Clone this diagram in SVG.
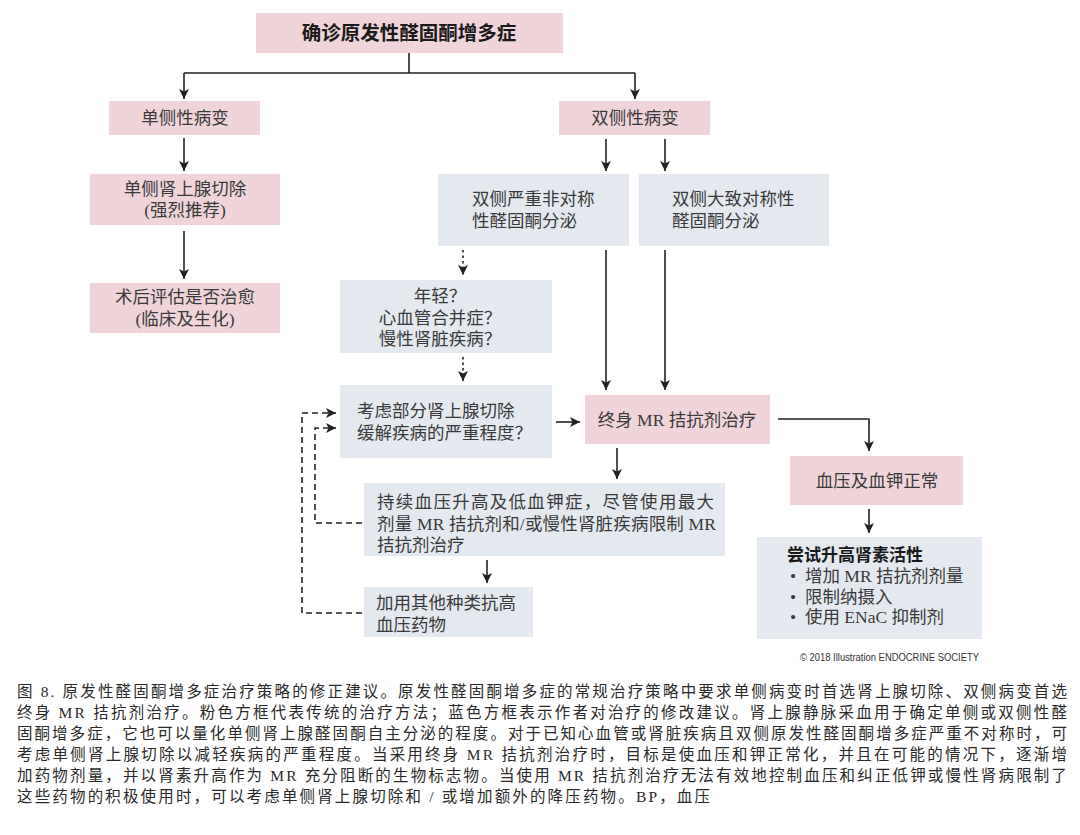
<svg xmlns="http://www.w3.org/2000/svg" width="1080" height="835" viewBox="0 0 1080 835">
<defs>
<style>
.pink{fill:#f1d4da}
.blue{fill:#e4e9f0}
.t{font-family:"Liberation Serif","Noto Sans CJK SC",serif;font-size:17.5px;fill:#3a3a3a}
.c{text-anchor:middle}
.b{font-family:"Liberation Sans","Noto Sans CJK SC",sans-serif;font-weight:bold;fill:#1a1a1a}
.ln{fill:none;stroke:#222;stroke-width:1.6}
.dot{fill:none;stroke:#222;stroke-width:1.6;stroke-dasharray:2.5,3}
.dash{fill:none;stroke:#222;stroke-width:1.6;stroke-dasharray:6,4}
.cap{font-family:"Liberation Serif","Noto Sans CJK SC",serif;font-size:15.5px;fill:#2a2a2a}
.copy{font-family:"Liberation Sans Narrow","Liberation Sans",sans-serif;font-size:10px;fill:#333}
</style>
<marker id="ah" viewBox="0 0 10 10" refX="10" refY="5" markerWidth="10" markerHeight="10" markerUnits="userSpaceOnUse" orient="auto">
<path d="M0,0 L10,5 L0,10 L2.5,5 z" fill="#222"/>
</marker>
</defs>
<rect width="1080" height="835" fill="#fff"/>

<g id="connectors">
<path class="ln" d="M409,53 V73"/>
<path class="ln" d="M184,73 H635"/>
<path class="ln" d="M184,73 V99" marker-end="url(#ah)"/>
<path class="ln" d="M635,73 V99" marker-end="url(#ah)"/>
<path class="ln" d="M184,138 V171" marker-end="url(#ah)"/>
<path class="ln" d="M184,231 V279" marker-end="url(#ah)"/>
<path class="ln" d="M606,139 V171" marker-end="url(#ah)"/>
<path class="ln" d="M665,139 V171" marker-end="url(#ah)"/>
<path class="dot" d="M463,250 V275" marker-end="url(#ah)"/>
<path class="dot" d="M463,357 V381" marker-end="url(#ah)"/>
<path class="ln" d="M606,250 V390" marker-end="url(#ah)"/>
<path class="ln" d="M665,250 V390" marker-end="url(#ah)"/>
<path class="ln" d="M556,422 H580" marker-end="url(#ah)"/>
<path class="ln" d="M778,419 H869 V451" marker-end="url(#ah)"/>
<path class="ln" d="M869,509 V533" marker-end="url(#ah)"/>
<path class="ln" d="M617,448 V479" marker-end="url(#ah)"/>
<path class="ln" d="M487,560 V583" marker-end="url(#ah)"/>
<path class="dash" d="M362,523 H315 V428 H336" marker-end="url(#ah)"/>
<path class="dash" d="M362,613 H302 V413 H336" marker-end="url(#ah)"/>
</g>

<g id="n-confirm">
<rect class="pink" x="256" y="13" width="307" height="40"/>
<text class="b c" x="409" y="33" font-size="19.5" dominant-baseline="central">确诊原发性醛固酮增多症</text>
</g>
<g id="n-unilateral">
<rect class="pink" x="109" y="101" width="151" height="34"/>
<text class="t c" x="185" y="118" dominant-baseline="central">单侧性病变</text>
</g>
<g id="n-bilateral">
<rect class="pink" x="559" y="101" width="151" height="34"/>
<text class="t c" x="635" y="118" dominant-baseline="central">双侧性病变</text>
</g>
<g id="n-adrenalectomy">
<rect class="pink" x="90" y="174" width="190" height="51"/>
<text class="t c" x="185" y="189" dominant-baseline="central">单侧肾上腺切除</text>
<text class="t c" x="185" y="210" dominant-baseline="central">(强烈推荐)</text>
</g>
<g id="n-postop">
<rect class="pink" x="90" y="283" width="190" height="50"/>
<text class="t c" x="185" y="297" dominant-baseline="central">术后评估是否治愈</text>
<text class="t c" x="185" y="319" dominant-baseline="central">(临床及生化)</text>
</g>
<g id="n-asym">
<rect class="blue" x="438" y="174" width="191" height="72"/>
<text class="t" x="472" y="199" dominant-baseline="central">双侧严重非对称</text>
<text class="t" x="472" y="221" dominant-baseline="central">性醛固酮分泌</text>
</g>
<g id="n-sym">
<rect class="blue" x="639" y="174" width="190" height="72"/>
<text class="t" x="672" y="199" dominant-baseline="central">双侧大致对称性</text>
<text class="t" x="672" y="221" dominant-baseline="central">醛固酮分泌</text>
</g>
<g id="n-young">
<rect class="blue" x="340" y="280" width="212" height="73"/>
<text class="t c" x="440" y="296" dominant-baseline="central">年轻？</text>
<text class="t c" x="440" y="318" dominant-baseline="central">心血管合并症？</text>
<text class="t c" x="440" y="339" dominant-baseline="central">慢性肾脏疾病？</text>
</g>
<g id="n-partial">
<rect class="blue" x="340" y="385" width="212" height="73"/>
<text class="t" x="357" y="411" dominant-baseline="central">考虑部分肾上腺切除</text>
<text class="t" x="357" y="433" dominant-baseline="central">缓解疾病的严重程度？</text>
</g>
<g id="n-lifelong">
<rect class="pink" x="585" y="395" width="185" height="49"/>
<text class="t c" x="677" y="420" dominant-baseline="central">终身 MR 拮抗剂治疗</text>
</g>
<g id="n-normal">
<rect class="pink" x="790" y="456" width="173" height="49"/>
<text class="t c" x="877" y="481" dominant-baseline="central">血压及血钾正常</text>
</g>
<g id="n-renin">
<rect class="blue" x="757" y="537" width="225" height="102"/>
<text class="b" x="787" y="555" font-size="17" dominant-baseline="central">尝试升高肾素活性</text>
<text class="t" x="790" y="576" dominant-baseline="central">•</text>
<text class="t" x="805" y="576" dominant-baseline="central">增加 MR 拮抗剂剂量</text>
<text class="t" x="790" y="597" dominant-baseline="central">•</text>
<text class="t" x="805" y="597" dominant-baseline="central">限制纳摄入</text>
<text class="t" x="790" y="617" dominant-baseline="central">•</text>
<text class="t" x="805" y="617" dominant-baseline="central">使用 ENaC 抑制剂</text>
</g>
<g id="n-persistent">
<rect class="blue" x="364" y="483" width="361" height="73"/>
<text class="t" x="377" y="502" dominant-baseline="central" textLength="337" lengthAdjust="spacing">持续血压升高及低血钾症，尽管使用最大</text>
<text class="t" x="377" y="524" dominant-baseline="central" textLength="339" lengthAdjust="spacing">剂量 MR 拮抗剂和/或慢性肾脏疾病限制 MR</text>
<text class="t" x="377" y="545" dominant-baseline="central">拮抗剂治疗</text>
</g>
<g id="n-addmed">
<rect class="blue" x="364" y="587" width="169" height="50"/>
<text class="t" x="376" y="603" dominant-baseline="central">加用其他种类抗高</text>
<text class="t" x="376" y="625" dominant-baseline="central">血压药物</text>
</g>

<text class="copy" x="800" y="661" textLength="179" lengthAdjust="spacingAndGlyphs">© 2018 Illustration ENDOCRINE SOCIETY</text>

<g id="caption">
<text class="cap" x="17" y="697" textLength="1050" lengthAdjust="spacing">图 8. 原发性醛固酮增多症治疗策略的修正建议。原发性醛固酮增多症的常规治疗策略中要求单侧病变时首选肾上腺切除、双侧病变首选</text>
<text class="cap" x="17" y="718" textLength="1050" lengthAdjust="spacing">终身 MR 拮抗剂治疗。粉色方框代表传统的治疗方法；蓝色方框表示作者对治疗的修改建议。肾上腺静脉采血用于确定单侧或双侧性醛</text>
<text class="cap" x="17" y="739" textLength="1050" lengthAdjust="spacing">固酮增多症，它也可以量化单侧肾上腺醛固酮自主分泌的程度。对于已知心血管或肾脏疾病且双侧原发性醛固酮增多症严重不对称时，可</text>
<text class="cap" x="17" y="760" textLength="1050" lengthAdjust="spacing">考虑单侧肾上腺切除以减轻疾病的严重程度。当采用终身 MR 拮抗剂治疗时，目标是使血压和钾正常化，并且在可能的情况下，逐渐增</text>
<text class="cap" x="17" y="781" textLength="1050" lengthAdjust="spacing">加药物剂量，并以肾素升高作为 MR 充分阻断的生物标志物。当使用 MR 拮抗剂治疗无法有效地控制血压和纠正低钾或慢性肾病限制了</text>
<text class="cap" x="17" y="802" textLength="693" lengthAdjust="spacing">这些药物的积极使用时，可以考虑单侧肾上腺切除和 / 或增加额外的降压药物。BP，血压</text>
</g>
</svg>
